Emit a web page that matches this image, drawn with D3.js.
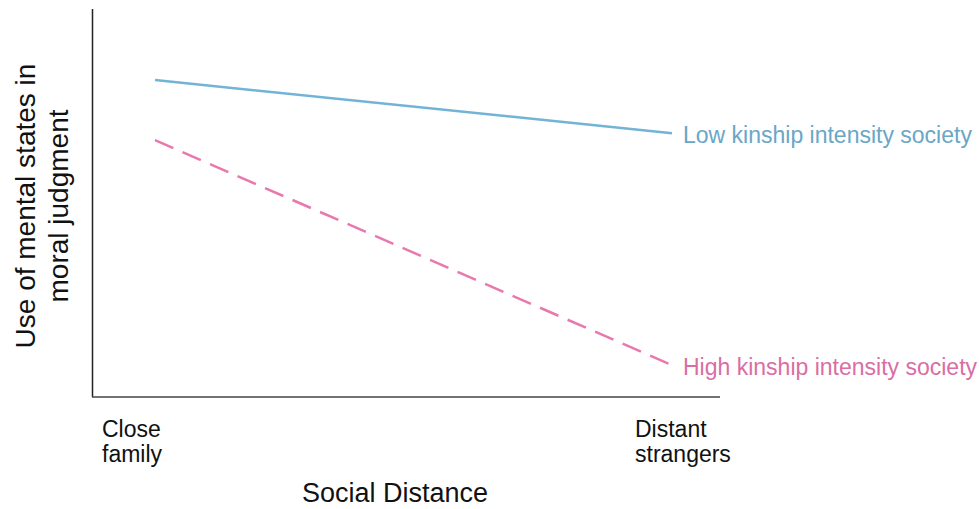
<!DOCTYPE html>
<html><head><meta charset="utf-8">
<script src="https://cdn.jsdelivr.net/npm/d3@7"></script>
<style>body{margin:0;background:#fff;} text{font-family:"Liberation Sans",Arial,sans-serif;}</style>
</head><body>
<script>
const categories = ["Close family", "Distant strangers"];
const tickLabels = [["Close", "family"], ["Distant", "strangers"]];
const lowKinship = [0.817, 0.68];
const highKinship = [0.662, 0.082];
const seriesNames = ["Low kinship intensity society", "High kinship intensity society"];

const W = 979, H = 509;
const svg = d3.select("body").append("svg").attr("width", W).attr("height", H);

const x = d3.scalePoint().domain(categories).range([155, 672]);
const y = d3.scaleLinear().domain([0, 1]).range([397, 9]);
const xLab = d3.scalePoint().domain(categories).range([102, 635]);

// axes
svg.append("line").attr("x1", 92.5).attr("x2", 92.5).attr("y1", y(1)).attr("y2", y(0))
  .attr("stroke", "#222").attr("stroke-width", 1.5);
svg.append("line").attr("x1", 92).attr("x2", 720).attr("y1", y(0)).attr("y2", y(0))
  .attr("stroke", "#444").attr("stroke-width", 1.5);

const line = d3.line().x((d, i) => x(categories[i])).y(d => y(d));

const series = [
  {name: seriesNames[0], values: lowKinship, color: "#72b3d6", text: "#6aa6c6", dash: null},
  {name: seriesNames[1], values: highKinship, color: "#e878ad", text: "#d86ea4", dash: "20,10"}
];

series.forEach(s => {
  svg.append("path").datum(s.values).attr("d", line)
    .attr("fill", "none").attr("stroke", s.color).attr("stroke-width", 2.5)
    .attr("stroke-dasharray", s.dash);
  svg.append("text").attr("x", x(categories[1]) + 11).attr("y", y(s.values[1]) + 10)
    .attr("fill", s.text).attr("font-size", 23).text(s.name);
});

// tick labels
categories.forEach((c, i) => {
  const t = svg.append("text").attr("x", xLab(c)).attr("y", 437).attr("font-size", 23).attr("fill", "#111");
  tickLabels[i].forEach((w, j) => t.append("tspan").attr("x", xLab(c)).attr("dy", j ? 25 : 0).text(w));
});

// axis titles
svg.append("text").attr("x", 395).attr("y", 502).attr("text-anchor", "middle")
  .attr("font-size", 27).attr("fill", "#111").text("Social Distance");
const yt = svg.append("text").attr("transform", "translate(35,206) rotate(-90)")
  .attr("text-anchor", "middle").attr("font-size", 28).attr("fill", "#111");
yt.append("tspan").attr("x", 0).attr("dy", 0).text("Use of mental states in");
yt.append("tspan").attr("x", 0).attr("dy", 33).text("moral judgment");
</script>
</body></html>
